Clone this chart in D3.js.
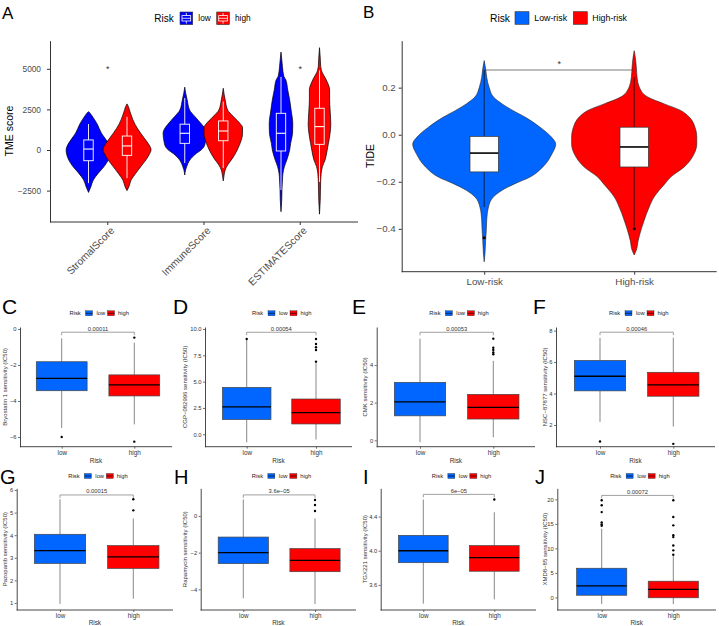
<!DOCTYPE html>
<html><head><meta charset="utf-8">
<script src="https://cdn.jsdelivr.net/npm/d3@7"></script>
<style>body{margin:0;background:#fff;overflow:hidden;} svg{display:block;}</style>
</head><body><svg id="fig" width="719" height="626"></svg>
<script>
// ================= DATA =================
// Panel A
const tmeCategories = ["StromalScore","ImmuneScore","ESTIMATEScore"];
const tmeGroups = ["low","high"];
const tmeTicks = [-2500,0,2500,5000];
const tmeSignif = ["*","","*"];
// [lowerWhisker, q1, median, q3, upperWhisker]
const tmeBoxLow  = [[-2040,-660,60,620,1600],[-800,410,1030,1590,3200],[-2470,-60,1030,2260,4500]];
const tmeBoxHigh = [[-1730,-330,250,860,2040],[-1110,570,1170,1790,2980],[-1960,350,1440,2570,4900]];
// violin density profiles: [value, relative density]
const tmeDensityLow = [
  [[-2610,0],[-2400,0.06],[-2260,0.1],[-1850,0.2],[-1440,0.4],[-1030,0.64],[-620,0.82],[-250,0.91],[0,0.93],[200,0.9],[430,0.82],[1030,0.54],[1600,0.36],[2160,0.12],[2300,0.05],[2360,0]],
  [[-1540,0],[-1200,0.04],[-1030,0.08],[-620,0.21],[-200,0.49],[0,0.68],[200,0.8],[600,0.87],[1030,0.9],[1400,0.8],[1590,0.7],[2060,0.42],[2470,0.2],[3090,0.1],[3500,0.04],[3870,0]],
  [[-3800,0],[-3090,0.03],[-2470,0.04],[-1850,0.06],[-1440,0.08],[-1030,0.14],[-620,0.24],[0,0.36],[410,0.4],[1030,0.48],[1590,0.49],[2470,0.42],[3090,0.36],[3700,0.28],[4320,0.2],[4530,0.12],[5140,0.06],[5600,0.03],[6030,0]]
];
const tmeDensityHigh = [
  [[-2500,0],[-2260,0.08],[-1850,0.17],[-1440,0.36],[-1030,0.57],[-620,0.78],[-200,0.95],[0,1.0],[150,0.98],[410,0.875],[1030,0.57],[1590,0.33],[2160,0.17],[2470,0.1],[2700,0.05],[2840,0]],
  [[-1900,0],[-1500,0.04],[-1230,0.08],[-930,0.18],[-520,0.38],[0,0.58],[410,0.7],[1000,0.8],[1400,0.8],[1590,0.72],[2060,0.42],[2470,0.18],[3090,0.08],[3400,0.04],[3800,0]],
  [[-3950,0],[-3090,0.03],[-1850,0.05],[-1440,0.07],[-1030,0.12],[-620,0.23],[0,0.32],[410,0.37],[1030,0.44],[1590,0.47],[2470,0.44],[3090,0.42],[3700,0.42],[4320,0.28],[4900,0.08],[5140,0.05],[5700,0.03],[6300,0]]
];

// Panel B
const tideGroups = ["Low-risk","High-risk"];
const tideTicks = [-0.4,-0.2,0.0,0.2];
const tideBox = [[-0.307,-0.158,-0.078,-0.007,0.275],[-0.39,-0.137,-0.052,0.032,0.244]];
const tideOutliers = [[-0.438],[-0.40]];
const tideBracket = 0.275;
const tideSignif = "*";
const tideDensity = [
  [[-0.54,0],[-0.5,0.012],[-0.45,0.02],[-0.4,0.03],[-0.363,0.035],[-0.307,0.06],[-0.264,0.13],[-0.236,0.25],[-0.208,0.43],[-0.18,0.64],[-0.137,0.82],[-0.08,0.95],[-0.04,1.0],[-0.01,0.94],[0.032,0.78],[0.075,0.57],[0.103,0.4],[0.131,0.25],[0.16,0.13],[0.2,0.07],[0.244,0.035],[0.28,0.02],[0.315,0]],
  [[-0.511,0],[-0.49,0.03],[-0.45,0.055],[-0.4,0.1],[-0.363,0.14],[-0.307,0.21],[-0.264,0.28],[-0.236,0.35],[-0.208,0.43],[-0.18,0.51],[-0.137,0.7],[-0.08,0.84],[-0.04,0.875],[-0.01,0.875],[0.032,0.85],[0.075,0.77],[0.103,0.65],[0.131,0.42],[0.16,0.19],[0.2,0.075],[0.244,0.04],[0.286,0.03],[0.33,0.015],[0.357,0]]
];

// Panels C-J
const drugLetters = ["C","D","E","F","G","H","I","J"];
const drugNames = ["Bryostatin 1","CGP\u2212082996","CMK","NSC\u221287877","Pazopanib","Rapamycin","TGX221","XMD8\u221285"];
const drugGroups = ["low","high"];
const drugPvalues = ["0.00011","0.00054","0.00053","0.00046","0.00015","3.6e\u221205","6e\u221205","0.00072"];
const drugTicks = [[-6,-4,-2,0],[0,2.5,5,7.5,10],[0,2,4],[2,4,6,8],[1,2,3,4,5,6],[-4,-2,0],[3.6,4.0,4.4],[0,5,10,15,20]];
const drugTickDigits = [0,1,0,0,0,0,1,0];
const drugBoxLow = [
  [-5.5,-3.43,-2.74,-1.82,-0.52],
  [-0.76,1.4,2.6,4.45,8.95],
  [-0.1,1.3,2.04,3.08,5.4],
  [2.2,4.17,5.1,6.1,7.55],
  [0.96,2.75,3.32,4.04,5.59],
  [-4.49,-2.6,-2.0,-1.15,0.9],
  [3.38,3.86,4.0,4.18,4.6],
  [-1.36,0.45,2.36,5.95,14.0]];
const drugBoxHigh = [
  [-5.3,-3.72,-3.11,-2.55,-0.76],
  [-0.5,0.98,2.05,3.35,6.75],
  [0.16,1.13,1.75,2.44,4.22],
  [1.9,3.83,4.55,5.35,7.55],
  [1.19,2.53,3.04,3.54,4.74],
  [-4.8,-3.04,-2.42,-1.78,-0.13],
  [3.43,3.76,3.92,4.06,4.45],
  [-1.36,-0.07,1.63,3.31,8.4]];
const drugOutLow = [[-6.0],[9.05],[],[0.95],[],[],[],[14.6,14.9,15.3,17.4,18.8,19.8]];
const drugOutHigh = [[-0.48,-6.26],[6.9,8.0,8.26,8.58,9.05],[4.57,4.67,4.8,4.92,5.4],[0.8],[5.1,5.59],[0.27,0.6,0.87],[4.6],[8.7,9.6,10.6,12.3,12.7,14.7,16.4,19.8]];
const drugBracket = [-0.18,9.69,5.74,7.9,5.78,1.15,4.66,20.8];

// ================= LAYOUT / STYLE =================
const FONT = '"Liberation Sans", Arial, Helvetica, sans-serif';
const svg = d3.select("#fig").attr("font-family", FONT);
svg.append("rect").attr("width",719).attr("height",626).attr("fill","#fff");
const AXC = "#333";
const TXC = "#4d4d4d";

function letter(t,x,y,size){
  svg.append("text").attr("x",x).attr("y",y).attr("font-size",size).attr("fill","#000").text(t);
}

// ================= PANEL A =================
(function(){
  const colors = ["#0000FF","#FF0000"];
  const x0=50, x1=358, yTop=40.7, yBot=222;
  const y = d3.scaleLinear().domain([-4433, 6730]).range([yBot, yTop]);
  const x = d3.scalePoint().domain(tmeCategories).range([x0, x1]).padding(0.6);
  const step = x.step();
  const dodge = step*0.2;
  const wScale = d3.scaleLinear().domain([0,1]).range([0, step*0.25]);
  const g = svg.append("g");
  const dens = [tmeDensityLow, tmeDensityHigh];
  const boxes = [tmeBoxLow, tmeBoxHigh];
  tmeCategories.forEach((c,i)=>{
    [0,1].forEach(k=>{
      const cx = x(c) + (k===0?-dodge:dodge);
      const area = d3.area().y(d=>y(d[0])).x0(d=>cx-wScale(d[1])).x1(d=>cx+wScale(d[1])).curve(d3.curveMonotoneY);
      g.append("path").attr("d", area(dens[k][i])).attr("fill",colors[k]).attr("stroke","#000").attr("stroke-width",0.7);
      const b = boxes[k][i], bw = 4.7;
      g.append("line").attr("x1",cx).attr("x2",cx).attr("y1",y(b[3])).attr("y2",y(b[4])).attr("stroke","#fff").attr("stroke-width",0.9);
      g.append("line").attr("x1",cx).attr("x2",cx).attr("y1",y(b[1])).attr("y2",y(b[0])).attr("stroke","#fff").attr("stroke-width",0.9);
      g.append("rect").attr("x",cx-bw).attr("width",2*bw).attr("y",y(b[3])).attr("height",y(b[1])-y(b[3])).attr("fill","none").attr("stroke","#fff").attr("stroke-width",0.9);
      g.append("line").attr("x1",cx-bw).attr("x2",cx+bw).attr("y1",y(b[2])).attr("y2",y(b[2])).attr("stroke","#fff").attr("stroke-width",1.1);
    });
    if (tmeSignif[i]) g.append("text").attr("x",x(c)).attr("y",72).attr("text-anchor","middle").attr("font-size",9).attr("fill","#333").text(tmeSignif[i]);
  });
  // axes
  const ya = g.append("g").attr("transform",`translate(${x0},0)`)
    .call(d3.axisLeft(y).tickValues(tmeTicks).tickSize(3).tickSizeOuter(0).tickPadding(6).tickFormat(d=>d<0?"\u2212"+(-d):String(d)));
  ya.select(".domain").attr("stroke",AXC).attr("stroke-width",1);
  ya.selectAll(".tick line").attr("stroke",AXC);
  ya.selectAll(".tick text").attr("font-size",8.3).attr("fill",TXC).attr("font-family",FONT);
  g.append("line").attr("x1",x0).attr("x2",x1).attr("y1",yBot).attr("y2",yBot).attr("stroke",AXC).attr("stroke-width",1);
  tmeCategories.forEach(c=>{
    g.append("line").attr("x1",x(c)).attr("x2",x(c)).attr("y1",yBot).attr("y2",yBot+3).attr("stroke",AXC);
    g.append("text").attr("transform",`translate(${x(c)+2},${yBot+4}) rotate(-45)`).attr("text-anchor","end").attr("dy","0.72em")
      .attr("font-size",10.3).attr("fill",TXC).text(c);
  });
  g.append("text").attr("transform",`translate(13,131) rotate(-90)`).attr("text-anchor","middle").attr("font-size",10.5).attr("fill","#000").text("TME score");
  // legend
  const lg = svg.append("g");
  lg.append("text").attr("x",154.3).attr("y",18.3).attr("dy","0.35em").attr("font-size",10).text("Risk");
  [[180,0,198.3],[216.7,1,235]].forEach(([kx,k,tx])=>{
    const w=12.7,h=12.6,ky=12;
    lg.append("rect").attr("x",kx).attr("y",ky).attr("width",w).attr("height",h).attr("fill",colors[k]).attr("stroke","#333").attr("stroke-width",0.6);
    const cx = kx+w/2;
    lg.append("rect").attr("x",kx+2).attr("y",ky+3.6).attr("width",w-4).attr("height",h-7.2).attr("fill","none").attr("stroke","#fff").attr("stroke-width",0.8);
    lg.append("line").attr("x1",kx+2).attr("x2",kx+w-2).attr("y1",ky+h/2).attr("y2",ky+h/2).attr("stroke","#fff").attr("stroke-width",0.8);
    lg.append("line").attr("x1",cx).attr("x2",cx).attr("y1",ky+1).attr("y2",ky+3.6).attr("stroke","#fff").attr("stroke-width",0.8);
    lg.append("line").attr("x1",cx).attr("x2",cx).attr("y1",ky+h-3.6).attr("y2",ky+h-1).attr("stroke","#fff").attr("stroke-width",0.8);
    lg.append("text").attr("x",tx).attr("y",18.3).attr("dy","0.35em").attr("font-size",8.3).text(tmeGroups[k]);
  });
  letter("A",2,19,17);
})();

// ================= PANEL B =================
(function(){
  const colors = ["#0066FF","#FF0000"];
  const x0=401.7, x1=716.7, yTop=40.7, yBot=271.7;
  const y = d3.scaleLinear().domain([-0.582, 0.3995]).range([yBot, yTop]);
  const x = d3.scalePoint().domain(tideGroups).range([x0, x1]).padding(0.55);
  const wScale = d3.scaleLinear().domain([0,1]).range([0, 71.5]);
  const g = svg.append("g");
  tideGroups.forEach((grp,k)=>{
    const cx = x(grp);
    const area = d3.area().y(d=>y(d[0])).x0(d=>cx-wScale(d[1])).x1(d=>cx+wScale(d[1])).curve(d3.curveMonotoneY);
    g.append("path").attr("d",area(tideDensity[k])).attr("fill",colors[k]).attr("stroke","#222").attr("stroke-width",0.6);
    const b = tideBox[k], bw = 14.2;
    g.append("line").attr("x1",cx).attr("x2",cx).attr("y1",y(b[3])).attr("y2",y(b[4])).attr("stroke","#000").attr("stroke-width",0.7);
    g.append("line").attr("x1",cx).attr("x2",cx).attr("y1",y(b[1])).attr("y2",y(b[0])).attr("stroke","#000").attr("stroke-width",0.7);
    g.append("rect").attr("x",cx-bw).attr("width",2*bw).attr("y",y(b[3])).attr("height",y(b[1])-y(b[3])).attr("fill","#fff").attr("stroke","#333").attr("stroke-width",0.7);
    g.append("line").attr("x1",cx-bw).attr("x2",cx+bw).attr("y1",y(b[2])).attr("y2",y(b[2])).attr("stroke","#000").attr("stroke-width",1.6);
    tideOutliers[k].forEach(v=>g.append("circle").attr("cx",cx).attr("cy",y(v)).attr("r",1.5).attr("fill","#000"));
  });
  const bx0 = x(tideGroups[0]), bx1 = x(tideGroups[1]);
  g.append("line").attr("x1",bx0).attr("x2",bx1).attr("y1",y(tideBracket)).attr("y2",y(tideBracket)).attr("stroke","#444").attr("stroke-width",0.7);
  g.append("text").attr("x",(bx0+bx1)/2).attr("y",67).attr("text-anchor","middle").attr("font-size",9).attr("fill","#333").text(tideSignif);
  const ya = g.append("g").attr("transform",`translate(${x0},0)`)
    .call(d3.axisLeft(y).tickValues(tideTicks).tickSize(3).tickSizeOuter(0).tickPadding(3).tickFormat(d3.format(".1f")));
  ya.select(".domain").attr("stroke",AXC).attr("stroke-width",1);
  ya.selectAll(".tick line").attr("stroke",AXC);
  ya.selectAll(".tick text").attr("font-size",9.7).attr("fill",TXC).attr("font-family",FONT);
  const xa = g.append("g").attr("transform",`translate(0,${yBot})`)
    .call(d3.axisBottom(x).tickSize(3).tickSizeOuter(0).tickPadding(3));
  xa.select(".domain").attr("stroke",AXC).attr("stroke-width",1).attr("d",`M${x0},0H${x1}`);
  xa.selectAll(".tick line").attr("stroke",AXC);
  xa.selectAll(".tick text").attr("font-size",9.8).attr("fill",TXC).attr("font-family",FONT);
  g.append("text").attr("transform",`translate(374,156) rotate(-90)`).attr("text-anchor","middle").attr("font-size",10.5).text("TIDE");
  // legend
  const lg = svg.append("g");
  lg.append("text").attr("x",490).attr("y",18.3).attr("dy","0.35em").attr("font-size",10.3).text("Risk");
  [[515,0,534.3],[573.3,1,592.3]].forEach(([kx,k,tx])=>{
    lg.append("rect").attr("x",kx).attr("y",11.7).attr("width",14).attr("height",12.6).attr("fill",colors[k]).attr("stroke","#333").attr("stroke-width",0.6);
    lg.append("text").attr("x",tx).attr("y",18.3).attr("dy","0.35em").attr("font-size",8.8).text(tideGroups[k]);
  });
  letter("B",363,17.5,17);
})();

// ================= PANELS C-J =================
const drugLayout = [
  {xl:20,   xr:172, xa:61.7,  xb:134.3, lx:2,   row:0},
  {xl:205,  xr:352, xa:246.7, xb:316,   lx:173, row:0},
  {xl:376.7,xr:535, xa:420,   xb:493.3, lx:352, row:0},
  {xl:556,  xr:715, xa:600,   xb:673.3, lx:533, row:0},
  {xl:16.7, xr:173, xa:60,    xb:133.3, lx:0,   row:1},
  {xl:200.7,xr:356, xa:243.3, xb:315,   lx:174, row:1},
  {xl:380.7,xr:536, xa:423.3, xb:494.3, lx:363, row:1},
  {xl:557.3,xr:716, xa:601.7, xb:673.3, lx:535, row:1}
];
const drugYDomain = [[-6.54,0.11],[-1.18,10.19],[-0.34,6.02],[0.62,8.23],[0.69,6.075],[-5.13,1.51],[3.306,4.731],[-2.56,22.25]];
const rowGeom = [
  {yt:327, yb:446.7, legY:313.3, titY:460.5, letY:314, letS:21, panelX:[0,180,360,540]},
  {yt:488.3, yb:610, legY:476, titY:622.7, letY:483.5, letS:20, panelX:[0,180,360,540]}
];
const drugColors = ["#0066FF","#FF0000"];

drugNames.forEach((name,i)=>{
  const L = drugLayout[i], R = rowGeom[L.row];
  const g = svg.append("g");
  const y = d3.scaleLinear().domain(drugYDomain[i]).range([R.yb, R.yt]);
  const x = d3.scaleLinear().domain([1,2]).range([L.xa, L.xb]);
  const hw = (L.xb-L.xa)*0.35;
  const boxes = [drugBoxLow[i], drugBoxHigh[i]];
  const outs = [drugOutLow[i], drugOutHigh[i]];
  [0,1].forEach(k=>{
    const cx = x(k+1), b = boxes[k];
    g.append("line").attr("x1",cx).attr("x2",cx).attr("y1",y(b[3])).attr("y2",y(b[4])).attr("stroke","#555").attr("stroke-width",0.7);
    g.append("line").attr("x1",cx).attr("x2",cx).attr("y1",y(b[1])).attr("y2",y(b[0])).attr("stroke","#555").attr("stroke-width",0.7);
    g.append("rect").attr("x",cx-hw).attr("width",2*hw).attr("y",y(b[3])).attr("height",y(b[1])-y(b[3])).attr("fill",drugColors[k]).attr("stroke","#444").attr("stroke-width",0.7);
    g.append("line").attr("x1",cx-hw).attr("x2",cx+hw).attr("y1",y(b[2])).attr("y2",y(b[2])).attr("stroke","#000").attr("stroke-width",1.3);
    outs[k].forEach(v=>g.append("circle").attr("cx",cx).attr("cy",y(v)).attr("r",1.2).attr("fill","#000"));
  });
  // bracket
  const by = y(drugBracket[i]);
  g.append("path").attr("d",`M${x(1)},${by+3}V${by}H${x(2)}V${by+3}`).attr("fill","none").attr("stroke","#888").attr("stroke-width",0.8);
  g.append("text").attr("x",(x(1)+x(2))/2).attr("y",by-1.6).attr("text-anchor","middle").attr("font-size",5.8).attr("fill","#333").text(drugPvalues[i]);
  // axes
  const fmt = drugTickDigits[i] ? d3.format("."+drugTickDigits[i]+"f") : d3.format("d");
  const ya = g.append("g").attr("transform",`translate(${L.xl},0)`)
    .call(d3.axisLeft(y).tickValues(drugTicks[i]).tickSize(2).tickSizeOuter(0).tickPadding(1.5).tickFormat(fmt));
  ya.select(".domain").attr("stroke",AXC).attr("stroke-width",0.9);
  ya.selectAll(".tick line").attr("stroke",AXC).attr("stroke-width",0.7);
  ya.selectAll(".tick text").attr("font-size",5.8).attr("fill","#333").attr("font-family",FONT);
  const xa = g.append("g").attr("transform",`translate(0,${R.yb})`)
    .call(d3.axisBottom(x).tickValues([1,2]).tickSize(2).tickSizeOuter(0).tickPadding(1.5).tickFormat(v=>drugGroups[v-1]));
  xa.select(".domain").attr("stroke",AXC).attr("stroke-width",0.9).attr("d",`M${L.xl},0H${L.xr}`);
  xa.selectAll(".tick line").attr("stroke",AXC).attr("stroke-width",0.7);
  xa.selectAll(".tick text").attr("font-size",6.3).attr("fill","#333").attr("font-family",FONT);
  const pcx = (L.xl+L.xr)/2;
  g.append("text").attr("x",pcx).attr("y",R.titY).attr("dy","0.35em").attr("text-anchor","middle").attr("font-size",6.4).attr("fill","#333").text("Risk");
  const px = R.panelX[i%4];
  g.append("text").attr("transform",`translate(${px+7},${(R.yt+R.yb)/2}) rotate(-90)`).attr("text-anchor","middle").attr("font-size",6).attr("fill","#333")
    .text(name+" sensitivity (IC50)");
  // legend
  const lg = svg.append("g").attr("font-size",5.8).attr("fill","#222");
  lg.append("text").attr("x",pcx-26.5).attr("y",R.legY).attr("dy","0.35em").text("Risk");
  [[-10.5,0,0.5],[11.5,1,22]].forEach(([kx,k,tx])=>{
    const X = pcx+kx, Y = R.legY-2.5;
    lg.append("rect").attr("x",X).attr("y",Y).attr("width",7).attr("height",5).attr("fill",drugColors[k]).attr("stroke","#333").attr("stroke-width",0.4);
    lg.append("line").attr("x1",X).attr("x2",X+7).attr("y1",R.legY).attr("y2",R.legY).attr("stroke","#000").attr("stroke-width",0.6);
    lg.append("text").attr("x",pcx+tx).attr("y",R.legY).attr("dy","0.35em").text(drugGroups[k]);
  });
  letter(drugLetters[i], L.lx, R.letY, R.letS);
});
</script>
</body></html>
